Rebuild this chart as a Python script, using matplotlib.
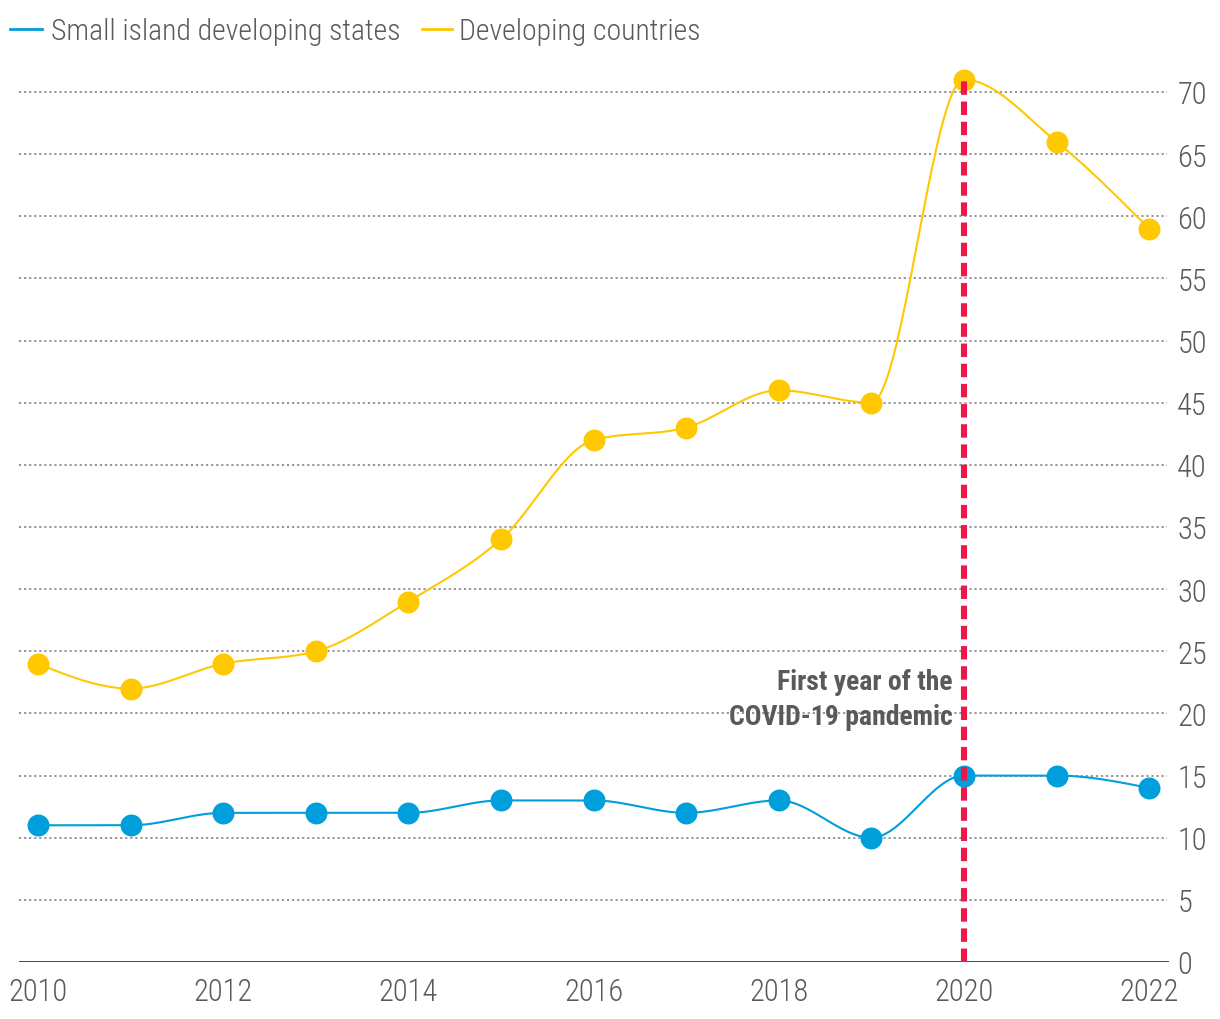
import numpy as np
import matplotlib
matplotlib.use("Agg")
import matplotlib.pyplot as plt
from matplotlib.lines import Line2D

years = [2010, 2011, 2012, 2013, 2014, 2015, 2016, 2017, 2018, 2019, 2020, 2021, 2022]
sids = [11, 11, 12, 12, 12, 13, 13, 12, 13, 10, 15, 15, 14]
developing = [24, 22, 24, 25, 29, 34, 42, 43, 46, 45, 71, 66, 59]
series_names = ["Small island developing states", "Developing countries"]
y_ticks = list(range(0, 75, 5))
x_ticks = [2010, 2012, 2014, 2016, 2018, 2020, 2022]
covid_year = 2020
annotation = "First year of the\nCOVID-19 pandemic"

BLUE = "#009EDB"
YELLOW = "#FFC800"
RED = "#ED1847"
TXT = "#5a5a5a"

plt.rcParams['font.family'] = ['Roboto Condensed', 'Roboto', 'DejaVu Sans']

W, H = 1220, 1020


def monotone_x(x, y, n=40):
    x = np.asarray(x, float)
    y = np.asarray(y, float)
    h = np.diff(x)
    s = np.diff(y) / h
    m = np.zeros_like(y)
    for i in range(1, len(x) - 1):
        s0, s1, h0, h1 = s[i - 1], s[i], h[i - 1], h[i]
        p = (s0 * h1 + s1 * h0) / (h0 + h1)
        m[i] = (np.sign(s0) + np.sign(s1)) * min(abs(s0), abs(s1), 0.5 * abs(p))
    m[0] = (3 * s[0] - m[1]) / 2
    m[-1] = (3 * s[-1] - m[-2]) / 2
    xs, ys = [], []
    for i in range(len(x) - 1):
        t = np.linspace(0, 1, n, endpoint=(i == len(x) - 2))
        hh = h[i]
        h00 = 2 * t**3 - 3 * t**2 + 1
        h10 = t**3 - 2 * t**2 + t
        h01 = -2 * t**3 + 3 * t**2
        h11 = t**3 - t**2
        xs.append(x[i] + t * hh)
        ys.append(h00 * y[i] + h10 * hh * m[i] + h01 * y[i + 1] + h11 * hh * m[i + 1])
    return np.concatenate(xs), np.concatenate(ys)


fig = plt.figure(figsize=(W / 100, H / 100), dpi=100)
ax = fig.add_axes([19 / W, 1 - 963 / H, (1169 - 19) / W, 893 / H])
ax.set_xlim(2009.795, 2022.215)
ax.set_ylim(0, 71.85)

for yt in y_ticks[1:]:
    ax.axhline(yt, xmax=0.998, color="#8c8c8c", lw=1.3, ls=(0, (1.2, 1.6)), zorder=1)
ax.axhline(0, color="#333333", lw=2.0, zorder=2)

for vals, col in [(sids, BLUE), (developing, YELLOW)]:
    xs, ys = monotone_x(years, vals)
    ax.plot(xs, ys, color=col, lw=1.5, zorder=3)
    ax.plot(years, vals, 'o', color=col, ms=15.8, mec='none', zorder=4)

ax.plot([covid_year, covid_year], [0, max(developing)], color=RED, lw=4.4,
        dashes=(2.2, 1.1), zorder=5, solid_capstyle='butt', dash_capstyle='butt')

ax.text(covid_year - 0.12, 21.2, annotation, ha='right', va='center',
        fontsize=20, fontweight='bold', color=TXT, linespacing=1.38, zorder=6)

for sp in ax.spines.values():
    sp.set_visible(False)
ax.yaxis.tick_right()
ax.set_yticks(y_ticks)
ax.set_xticks(x_ticks)
ax.tick_params(axis='y', length=0, pad=6, labelsize=22, labelcolor=TXT)
ax.tick_params(axis='x', length=0, pad=11, labelsize=22, labelcolor=TXT)
for lab in ax.get_xticklabels() + ax.get_yticklabels():
    lab.set_fontweight('light')

# legend
leg_y = 1 - 30 / H
for (x0, x1, tx), name, col in zip([(10, 42, 51), (422, 452, 459)], series_names, [BLUE, YELLOW]):
    fig.add_artist(Line2D([x0 / W, x1 / W], [leg_y, leg_y], color=col, lw=2,
                          transform=fig.transFigure))
    fig.text(tx / W, leg_y - 2.5 / H, name, ha='left', va='center', fontsize=21.4,
             fontweight='light', color=TXT)

fig.savefig("out.png", dpi=100)
